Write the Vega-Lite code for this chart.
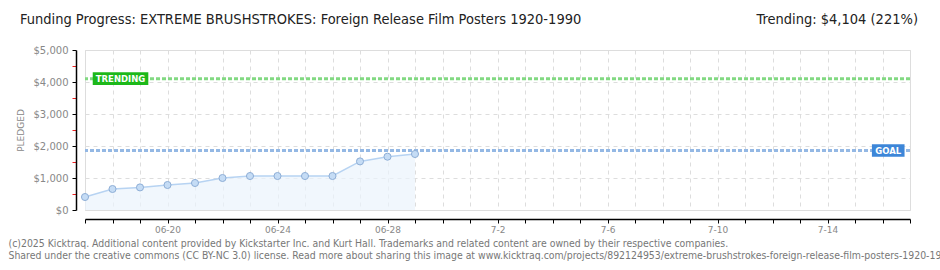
{
  "$schema": "https://vega.github.io/schema/vega-lite/v6.json",
  "autosize": {"type": "none"},
  "width": 825,
  "height": 160,
  "padding": {"left": 85, "top": 50, "right": 30, "bottom": 60},
  "background": "white",
  "config": {"axis": {"labelOverlap": false}},
  "datasets": {
    "series": [
      {"date": "2025-06-17", "pledged": 406},
      {"date": "2025-06-18", "pledged": 656},
      {"date": "2025-06-19", "pledged": 706},
      {"date": "2025-06-20", "pledged": 781},
      {"date": "2025-06-21", "pledged": 844},
      {"date": "2025-06-22", "pledged": 1000},
      {"date": "2025-06-23", "pledged": 1062},
      {"date": "2025-06-24", "pledged": 1062},
      {"date": "2025-06-25", "pledged": 1062},
      {"date": "2025-06-26", "pledged": 1062},
      {"date": "2025-06-27", "pledged": 1519},
      {"date": "2025-06-28", "pledged": 1666},
      {"date": "2025-06-29", "pledged": 1750}
    ],
    "markers": [
      {"label": "TRENDING", "date": "2025-06-18T07:00:00Z", "value": 4104},
      {"label": "GOAL", "date": "2025-07-16T05:00:00Z", "value": 1857}
    ],
    "headline": [
      {"txt": "Funding Progress: EXTREME BRUSHSTROKES: Foreign Release Film Posters 1920-1990", "side": "left", "date": "2025-06-17", "value": 5000},
      {"txt": "Trending:  $4,104 (221%)", "side": "right", "date": "2025-07-17", "value": 5000}
    ]
  },
  "encoding": {
    "x": {
      "field": "date",
      "type": "temporal",
      "scale": {"type": "utc", "domain": [{"year": 2025, "month": 6, "date": 17, "utc": true}, {"year": 2025, "month": 7, "date": 17, "utc": true}]},
      "axis": {
        "tickCount": {"interval": "day", "step": 1},
        "labelExpr": "round((datum.value - 1750377600000) / 86400000) % 4 == 0 ? (utcmonth(datum.value) == 5 ? utcFormat(datum.value, '%m-%d') : utcFormat(datum.value, '%-m-%-d')) : ''",
        "offset": 9,
        "domainColor": "#000000",
        "domainWidth": 1.5,
        "tickColor": "#000000",
        "tickSize": 4,
        "labelColor": "#888888",
        "labelFont": "DejaVu Sans",
        "labelFontSize": 9,
        "labelPadding": 2,
        "labelOverlap": false,
        "labelFlush": false,
        "grid": true,
        "gridDash": [4, 4],
        "gridColor": "#dddddd",
        "title": ["(c)2025 Kicktraq. Additional content provided by Kickstarter Inc. and Kurt Hall. Trademarks and related content are owned by their respective companies.", "Shared under the creative commons (CC BY-NC 3.0) license. Read more about sharing this image at www.kicktraq.com/projects/892124953/extreme-brushstrokes-foreign-release-film-posters-1920-1990/"],
        "titleAnchor": "start",
        "titleAlign": "left",
        "titleBaseline": "top",
        "titleX": -77,
        "titleY": 19,
        "titleFont": "Liberation Sans Narrow, DejaVu Sans Condensed, Liberation Sans, sans-serif",
        "titleFontSize": 10.4,
        "titleFontWeight": "normal",
        "titleColor": "#777777",
        "titleLineHeight": 12
      }
    },
    "y": {
      "field": "pledged",
      "type": "quantitative",
      "scale": {"domain": [0, 5000], "nice": false},
      "axis": {
        "values": [0, 500, 1000, 1500, 2000, 2500, 3000, 3500, 4000, 4500, 5000],
        "labelExpr": "datum.value % 1000 ? '' : format(datum.value, '$,d')",
        "labelOverlap": false,
        "labelFlush": false,
        "offset": 9,
        "domainColor": "#000000",
        "domainWidth": 1.5,
        "tickColor": {"condition": {"test": "datum.value % 1000", "value": "#ee2222"}, "value": "#000000"},
        "tickSize": 4,
        "labelColor": "#888888",
        "labelFont": "DejaVu Sans",
        "labelFontSize": 10,
        "labelPadding": 4,
        "grid": true,
        "gridDash": [4, 4],
        "gridColor": {"condition": {"test": "datum.value % 1000", "value": "transparent"}, "value": "#dddddd"},
        "title": "PLEDGED",
        "titleFont": "DejaVu Sans",
        "titleFontSize": 9,
        "titleFontWeight": "normal",
        "titleColor": "#888888",
        "titlePadding": 8
      }
    }
  },
  "layer": [
    {
      "data": {"name": "series"},
      "mark": {"type": "area", "color": "#ebf3fc", "line": {"color": "#b7d3f2", "strokeWidth": 1.5}}
    },
    {
      "data": {"name": "markers"},
      "transform": [{"filter": "datum.label == 'GOAL'"}],
      "mark": {"type": "rule", "color": "#94b8e4", "strokeWidth": 3, "strokeDash": [4, 2]},
      "encoding": {"x": null, "y": {"field": "value", "type": "quantitative"}}
    },
    {
      "data": {"name": "markers"},
      "transform": [{"filter": "datum.label == 'TRENDING'"}],
      "mark": {"type": "rule", "color": "#82d982", "strokeWidth": 3, "strokeDash": [4, 2]},
      "encoding": {"x": null, "y": {"field": "value", "type": "quantitative"}}
    },
    {
      "data": {"name": "series"},
      "mark": {"type": "point", "filled": true, "color": "#c5dcf5", "stroke": "#8eaed6", "strokeWidth": 1, "size": 50, "opacity": 1}
    },
    {
      "data": {"name": "markers"},
      "transform": [{"filter": "datum.label == 'TRENDING'"}],
      "mark": {"type": "point", "shape": "M-4.38,-1H4.38V1H-4.38Z", "size": 161, "filled": true, "color": "#1db81a", "opacity": 1},
      "encoding": {"y": {"field": "value", "type": "quantitative"}}
    },
    {
      "data": {"name": "markers"},
      "transform": [{"filter": "datum.label == 'GOAL'"}],
      "mark": {"type": "point", "shape": "M-2.63,-1H2.63V1H-2.63Z", "size": 154, "filled": true, "color": "#3d86d8", "opacity": 1},
      "encoding": {"y": {"field": "value", "type": "quantitative"}}
    },
    {
      "data": {"name": "markers"},
      "mark": {"type": "text", "color": "white", "font": "DejaVu Sans", "fontSize": 8.5, "fontWeight": "bold", "align": "center", "baseline": "middle"},
      "encoding": {"y": {"field": "value", "type": "quantitative"}, "text": {"field": "label"}}
    },
    {
      "data": {"name": "headline"},
      "transform": [{"filter": "datum.side == 'left'"}],
      "mark": {"type": "text", "align": "left", "baseline": "middle", "dx": -65, "dy": -30, "font": "Liberation Sans Narrow, DejaVu Sans Condensed, Liberation Sans, sans-serif", "fontSize": 14.5, "color": "#222222"},
      "encoding": {
        "y": {"field": "value", "type": "quantitative"},
        "text": {"field": "txt"}
      }
    },
    {
      "data": {"name": "headline"},
      "transform": [{"filter": "datum.side == 'right'"}],
      "mark": {"type": "text", "align": "right", "baseline": "middle", "dx": 8, "dy": -30, "font": "Liberation Sans Narrow, DejaVu Sans Condensed, Liberation Sans, sans-serif", "fontSize": 14.5, "color": "#222222"},
      "encoding": {
        "y": {"field": "value", "type": "quantitative"},
        "text": {"field": "txt"}
      }
    }
  ]
}
